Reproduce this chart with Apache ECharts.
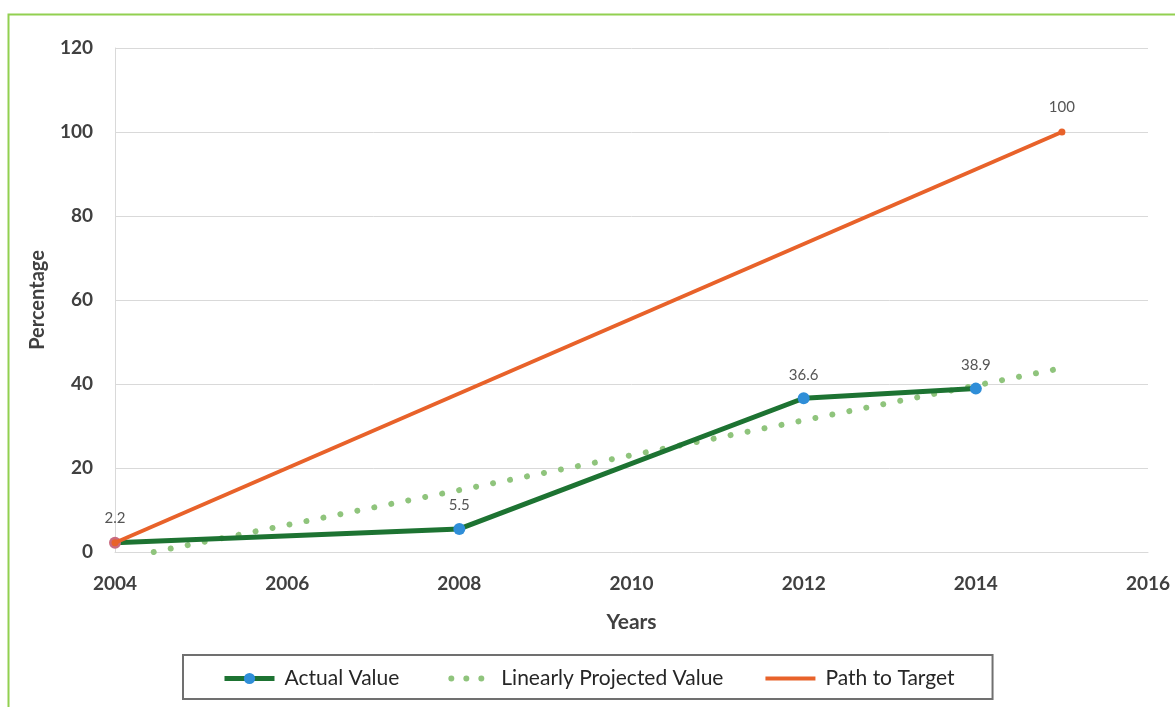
<!DOCTYPE html>
<html><head><meta charset="utf-8">
<script src="https://cdn.jsdelivr.net/npm/echarts@6/dist/echarts.min.js"></script>
<style>html,body{margin:0;padding:0;background:#fff}#c{width:1175px;height:707px}</style>
</head><body><div id="c"></div>
<script>
const xTicks = [2004, 2006, 2008, 2010, 2012, 2014, 2016];
const actualYears = [2004, 2008, 2012, 2014];
const actualValues = [2.2, 5.5, 36.6, 38.9];
const projectedYears = [2004.45, 2015];
const projectedValues = [0, 43.8];
const targetYears = [2004, 2015];
const targetValues = [2.2, 100];

const font = 'Lato, "Open Sans", sans-serif';
const dotsIcon = 'path://M0,0 L0.01,0 Z M50,14 L49.99,14 Z M7,7 a3,3 0 1,0 6,0 a3,3 0 1,0 -6,0 Z M22,7 a3,3 0 1,0 6,0 a3,3 0 1,0 -6,0 Z M37,7 a3,3 0 1,0 6,0 a3,3 0 1,0 -6,0 Z';
const barIcon = 'path://M0,0 L0.01,0 Z M50,14 L49.99,14 Z M0,5 L50,5 L50,9 L0,9 Z';
const chart = echarts.init(document.getElementById('c'));
chart.setOption({
  animation: false,
  graphic: [{type:'rect', shape:{x:8.5,y:14.5,width:1200,height:800}, style:{fill:null, stroke:'#92d050', lineWidth:2}, z:-1}],
  grid: {left:115, right:27, top:48, bottom:155},
  xAxis: {type:'value', min:xTicks[0], max:xTicks[xTicks.length-1], interval:2,
    name:'Years', nameLocation:'middle', nameGap:60,
    nameTextStyle:{fontFamily:font, fontSize:21, fontWeight:'bold', color:'#404040'},
    axisLine:{show:true, lineStyle:{color:'#d9d9d9', width:1}}, axisTick:{show:false},
    splitLine:{show:false},
    axisLabel:{formatter:v=>String(v), fontFamily:font, fontSize:19, fontWeight:'bold', color:'#404040', margin:22}},
  yAxis: {type:'value', min:0, max:120, interval:20,
    name:'Percentage', nameLocation:'middle', nameGap:67, nameRotate:90,
    nameTextStyle:{fontFamily:font, fontSize:20, fontWeight:'bold', color:'#404040'},
    axisLine:{show:true, lineStyle:{color:'#d9d9d9'}}, axisTick:{show:false},
    splitLine:{lineStyle:{color:'#d9d9d9'}},
    axisLabel:{fontFamily:font, fontSize:19, fontWeight:'bold', color:'#404040', margin:22}},
  legend: {left:183, top:655, padding:[13,38,10,39],
    borderColor:'#707070', borderWidth:2, itemGap:42, itemWidth:50, itemHeight:14,
    textStyle:{fontFamily:font, fontSize:21, color:'#262626', padding:[0,0,0,5]},
    data:[
      {name:'Actual Value', lineStyle:{width:5}},
      {name:'Linearly Projected Value', icon:dotsIcon},
      {name:'Path to Target', icon:barIcon}
    ]},
  series: [
    {name:'Linearly Projected Value', type:'line', clip:true, symbol:'none', z:2,
     data: projectedYears.map((x,i)=>[x, projectedValues[i]]),
     lineStyle:{color:'#8fc47c', width:6, type:[0.01,17.3], cap:'round'}, itemStyle:{color:'#8fc47c'}},
    {name:'Actual Value', type:'line', symbol:'circle', symbolSize:12, z:3,
     data: actualYears.map((x,i)=>(i===0 ? {value:[x, actualValues[i]], itemStyle:{color:'#c96a80'}} : [x, actualValues[i]])),
     lineStyle:{color:'#1d7332', width:5}, itemStyle:{color:'#2f8ed8'},
     label:{show:true, position:'top', distance:10, fontFamily:font, fontSize:15, color:'#555',
       formatter:p=> p.dataIndex===0 ? '' : String(p.value[1])}},
    {name:'Path to Target', type:'line', symbol:'circle', symbolSize:7, z:4,
     data: targetYears.map((x,i)=>[x, targetValues[i]]),
     lineStyle:{color:'#e8622a', width:4}, itemStyle:{color:'#e8622a'},
     label:{show:true, position:'top', distance:14, fontFamily:font, fontSize:15, color:'#555',
       formatter:p=>String(p.value[1])}}
  ]
});
</script></body></html>
